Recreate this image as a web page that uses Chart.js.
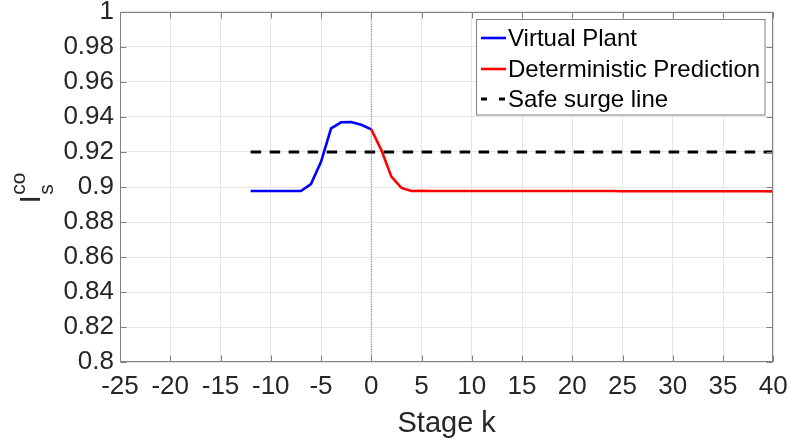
<!DOCTYPE html>
<html>
<head>
<meta charset="utf-8">
<script src="https://cdn.jsdelivr.net/npm/chart.js@4.4.1/dist/chart.umd.min.js"></script>
<style>
  html, body { margin: 0; padding: 0; background: #ffffff; }
  #wrap { width: 789px; height: 442px; }
</style>
</head>
<body>
<div id="wrap"><canvas id="chart" width="789" height="442"></canvas></div>
<script>
// Measured compressor surge index over past stages (virtual plant)
const plantStages = [-12, -11, -10, -9, -8, -7, -6, -5, -4, -3, -2, -1, 0];
const plantValues = [0.8977, 0.8977, 0.8977, 0.8977, 0.8977, 0.8977, 0.9017, 0.9144, 0.9335, 0.9369, 0.9371, 0.9355, 0.9329];

// Deterministic prediction over the horizon
const predStages = [0, 1, 2, 3, 4, 5, 6, 7, 8, 9, 10, 11, 12, 13, 14, 15, 16, 17, 18, 19, 20,
                    21, 22, 23, 24, 25, 26, 27, 28, 29, 30, 31, 32, 33, 34, 35, 36, 37, 38, 39, 40];
const predValues = [0.9329, 0.9211, 0.9059, 0.8995, 0.8977, 0.8978, 0.8977, 0.8977, 0.8977, 0.8977, 0.8977,
                    0.8977, 0.8977, 0.8977, 0.8977, 0.8977, 0.8977, 0.8977, 0.8977, 0.8977, 0.8977,
                    0.8977, 0.8977, 0.8977, 0.8977, 0.8976, 0.8976, 0.8976, 0.8976, 0.8976, 0.8976,
                    0.8976, 0.8976, 0.8976, 0.8976, 0.8976, 0.8976, 0.8976, 0.8976, 0.8976, 0.8975];

// Safe surge limit
const surgeStages = [-12, 40];
const surgeValues = [0.92, 0.92];

// Current stage marker
const nowStages = [0, 0];
const nowValues = [0.8, 1];

// Axis ticks
const xTickValues = [-25, -20, -15, -10, -5, 0, 5, 10, 15, 20, 25, 30, 35, 40];
const xTickLabels = ['-25', '-20', '-15', '-10', '-5', '0', '5', '10', '15', '20', '25', '30', '35', '40'];
const yTickValues = [0.8, 0.82, 0.84, 0.86, 0.88, 0.9, 0.92, 0.94, 0.96, 0.98, 1];
const yTickLabels = ['0.8', '0.82', '0.84', '0.86', '0.88', '0.9', '0.92', '0.94', '0.96', '0.98', '1'];

const seriesNames = ['Virtual Plant', 'Deterministic Prediction', 'Safe surge line'];

const FONT = '"Liberation Sans", Arial, Helvetica, sans-serif';
const TEXT = '#262626';
const FRAME = '#808080';

const toXY = (xs, ys) => xs.map((x, i) => ({ x: x, y: ys[i] }));

// Box, inward tick marks, y-axis label and legend
const decorations = {
  id: 'decorations',
  afterDatasetsDraw(chart) {
    const { ctx, chartArea: a, scales: { x, y } } = chart;
    ctx.save();
    ctx.strokeStyle = FRAME;
    ctx.lineWidth = 1;
    const L = Math.round(a.left) + 0.5, R = Math.round(a.right) - 0.5;
    const T = Math.round(a.top) + 0.5, B = Math.round(a.bottom) - 0.5;
    ctx.strokeRect(L, T, R - L, B - T);
    const tl = 6;
    ctx.beginPath();
    x.ticks.forEach(t => {
      const p = Math.round(x.getPixelForValue(t.value)) + 0.5;
      ctx.moveTo(p, B); ctx.lineTo(p, B - tl);
      ctx.moveTo(p, T); ctx.lineTo(p, T + tl);
    });
    y.ticks.forEach(t => {
      const p = Math.round(y.getPixelForValue(t.value)) + 0.5;
      ctx.moveTo(L, p); ctx.lineTo(L + tl, p);
      ctx.moveTo(R, p); ctx.lineTo(R - tl, p);
    });
    ctx.stroke();
    ctx.restore();
  },
  afterDraw(chart) {
    const { ctx } = chart;
    // y-axis label: I with subscript s and superscript co, rotated
    ctx.save();
    ctx.translate(40, 203.5);
    ctx.rotate(-Math.PI / 2);
    ctx.fillStyle = TEXT;
    ctx.textBaseline = 'alphabetic';
    ctx.textAlign = 'left';
    ctx.font = '30px ' + FONT;
    ctx.fillText('I', 0, 0);
    const adv = ctx.measureText('I').width;
    ctx.font = '21px ' + FONT;
    ctx.fillText('co', adv + 0.3, -15);
    ctx.fillText('s', adv + 0.3, 13.3);
    ctx.restore();

    // legend
    const bx = 476.5, by = 19.5, bw = 288.5, bh = 95.5;
    ctx.save();
    ctx.fillStyle = '#ffffff';
    ctx.fillRect(bx, by, bw, bh);
    ctx.strokeStyle = FRAME;
    ctx.lineWidth = 1;
    ctx.strokeRect(bx, by, bw, bh);
    const rows = [38, 69, 99];
    const dsets = chart.data.datasets;
    ctx.font = '24px ' + FONT;
    ctx.textBaseline = 'middle';
    ctx.textAlign = 'left';
    for (let i = 0; i < 3; i++) {
      const ds = dsets[i];
      ctx.beginPath();
      ctx.strokeStyle = ds.borderColor;
      ctx.lineWidth = ds.borderWidth;
      ctx.setLineDash(ds.borderDash && ds.borderDash.length ? [6, 12] : []);
      ctx.moveTo(481, rows[i]);
      ctx.lineTo(506, rows[i]);
      ctx.stroke();
      ctx.setLineDash([]);
      ctx.fillStyle = '#000000';
      ctx.fillText(seriesNames[i], 508, rows[i] + 1);
    }
    ctx.restore();
  }
};

new Chart(document.getElementById('chart'), {
  type: 'line',
  data: {
    datasets: [
      {
        label: seriesNames[0],
        data: toXY(plantStages, plantValues),
        borderColor: '#0000ff',
        borderWidth: 2.6,
        pointRadius: 0,
        tension: 0,
        fill: false,
        order: 4
      },
      {
        label: seriesNames[1],
        data: toXY(predStages, predValues),
        borderColor: '#ff0000',
        borderWidth: 2.6,
        pointRadius: 0,
        tension: 0,
        fill: false,
        order: 3
      },
      {
        label: seriesNames[2],
        data: toXY(surgeStages, surgeValues),
        borderColor: '#000000',
        borderWidth: 3,
        borderDash: [10.5, 8.5],
        pointRadius: 0,
        tension: 0,
        fill: false,
        order: 2
      },
      {
        label: 'k = 0',
        data: toXY(nowStages, nowValues),
        borderColor: '#707070',
        borderWidth: 1,
        borderDash: [1, 1.5],
        pointRadius: 0,
        tension: 0,
        fill: false,
        order: 1
      }
    ]
  },
  options: {
    responsive: false,
    devicePixelRatio: 1,
    animation: false,
    events: [],
    layout: { padding: { left: 0, right: 15.7, top: 11.7, bottom: 0 } },
    plugins: {
      legend: { display: false },
      tooltip: { enabled: false },
      title: { display: false }
    },
    scales: {
      x: {
        type: 'linear',
        position: 'bottom',
        min: -25,
        max: 40,
        afterBuildTicks: s => { s.ticks = xTickValues.map(v => ({ value: v })); },
        afterFit: s => {
          s.height = 442 - 362.3;
          s.paddingLeft = 0; s.paddingRight = 0;
        },
        ticks: {
          autoSkip: false,
          maxRotation: 0,
          minRotation: 0,
          padding: 9,
          color: TEXT,
          font: { family: FONT, size: 26 },
          callback: (v, i) => xTickLabels[i]
        },
        grid: { color: '#e6e6e6', lineWidth: 1, drawTicks: false },
        border: { display: false },
        title: {
          display: true,
          text: 'Stage k',
          color: TEXT,
          font: { family: FONT, size: 29 },
          padding: { top: 0, bottom: 1 }
        }
      },
      y: {
        type: 'linear',
        position: 'left',
        min: 0.8,
        max: 1,
        afterBuildTicks: s => { s.ticks = yTickValues.map(v => ({ value: v })); },
        afterFit: s => {
          s.width = 120;
          s.paddingTop = 0; s.paddingBottom = 0;
        },
        ticks: {
          padding: 6,
          color: TEXT,
          font: { family: FONT, size: 26 },
          callback: (v, i) => yTickLabels[i]
        },
        grid: { color: '#e6e6e6', lineWidth: 1, drawTicks: false },
        border: { display: false }
      }
    }
  },
  plugins: [decorations]
});
</script>
</body>
</html>
